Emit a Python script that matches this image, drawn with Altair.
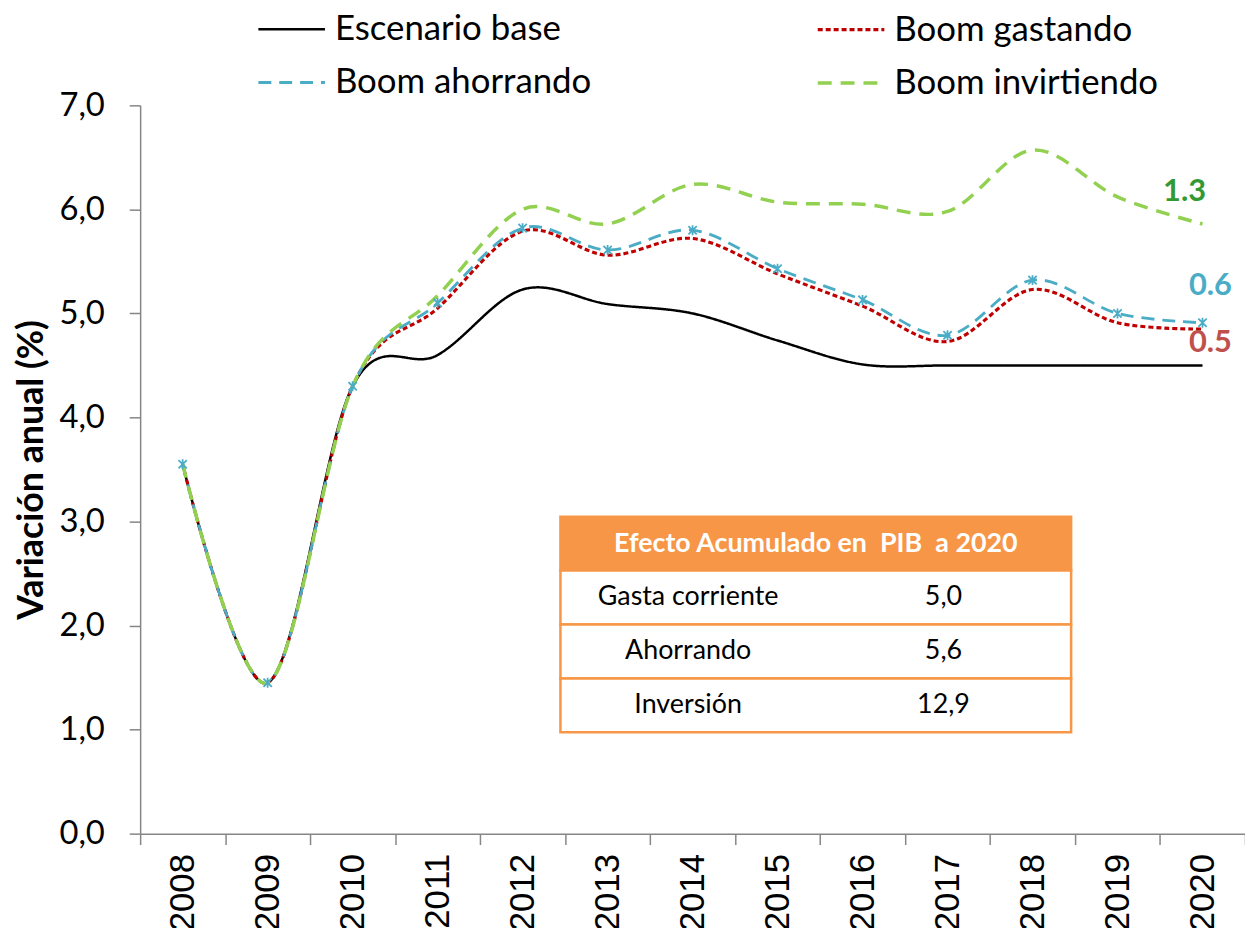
import altair as alt
import pandas as pd

years = ["2008", "2009", "2010", "2011", "2012", "2013", "2014",
         "2015", "2016", "2017", "2018", "2019", "2020"]

series_names = ["Escenario base", "Boom ahorrando", "Boom gastando", "Boom invirtiendo"]

base = [3.55, 1.45, 4.30, 4.60, 5.23, 5.09, 5.00, 4.74, 4.51, 4.50, 4.50, 4.50, 4.50]
gastando = [3.55, 1.45, 4.30, 5.05, 5.79, 5.56, 5.72, 5.38, 5.07, 4.73, 5.23, 4.91, 4.85]
ahorrando = [3.55, 1.45, 4.30, 5.10, 5.82, 5.61, 5.80, 5.43, 5.13, 4.79, 5.32, 5.00, 4.91]
invirtiendo = [3.55, 1.45, 4.30, 5.17, 6.00, 5.86, 6.24, 6.07, 6.05, 5.98, 6.57, 6.12, 5.86]

end_labels = ["0.5", "0.6", "1.3"]  # for gastando, ahorrando, invirtiendo

table_title = "Efecto Acumulado en \u00a0PIB \u00a0a 2020"
table_labels = ["Gasta corriente", "Ahorrando", "Inversión"]
table_values = [5.0, 5.6, 12.9]

# ---------------- data frames ----------------
all_series = {"Escenario base": base, "Boom gastando": gastando,
              "Boom ahorrando": ahorrando, "Boom invirtiendo": invirtiendo}
draw_order = ["Escenario base", "Boom gastando", "Boom ahorrando", "Boom invirtiendo"]
rows = []
for name in draw_order:
    for y, v in zip(years, all_series[name]):
        rows.append({"year": y, "series": name, "value": v})
df = pd.DataFrame(rows)

# styles, in series_names order
colors = ["#000000", "#4BACC6", "#C00000", "#92D050"]
dashes = [[1, 0], [13, 8], [5, 3], [14, 9]]
widths = [2.5, 3.5, 3, 3.5]

axis_gray = "#868686"

x_enc = alt.X(
    "year:O",
    scale=alt.Scale(type="band", domain=years, paddingInner=0, paddingOuter=0),
    bandPosition=0.5,
    axis=alt.Axis(title=None, tickBand="extent", labelAngle=270,
                  labelFont="Liberation Sans", labelFontSize=35,
                  labelColor="black", labelPadding=9, tickSize=11,
                  tickColor=axis_gray, tickWidth=1.5, domainColor=axis_gray,
                  domainWidth=1.5, grid=False),
)

y_enc = alt.Y(
    "value:Q",
    scale=alt.Scale(domain=[0, 7], nice=False, zero=True),
    axis=alt.Axis(title="Variación anual (%)", values=list(range(0, 8)),
                  labelExpr="replace(format(datum.value, '.1f'), '.', ',')",
                  labelFont="Lato", labelFontSize=33, labelColor="black",
                  labelPadding=25, tickSize=11, tickColor=axis_gray,
                  tickWidth=1.5, domainColor=axis_gray, domainWidth=1.5,
                  titleFont="Lato", titleFontSize=36, titleFontWeight="bold",
                  titleColor="black", titlePadding=9, grid=False),
)

legend = alt.Legend(
    title=None, orient="none", legendX=117, legendY=-112, columns=2,
    columnPadding=220, rowPadding=-2, symbolType="stroke",
    symbolSize=4489, symbolStrokeWidth=3, labelFont="Lato",
    labelFontSize=35, labelColor="black", labelOffset=8, labelLimit=600,
)

color_enc = alt.Color("series:N", scale=alt.Scale(domain=series_names, range=colors),
                      legend=legend)
dash_enc = alt.StrokeDash("series:N", scale=alt.Scale(domain=series_names, range=dashes),
                          legend=legend)
width_enc = alt.StrokeWidth("series:N", scale=alt.Scale(domain=series_names, range=widths),
                            legend=None)

line_layers = []
for s in draw_order:
    line_layers.append(
        alt.Chart(df).transform_filter(alt.datum.series == s)
        .mark_line(interpolate="cardinal")
        .encode(x=x_enc, y=y_enc, color=color_enc, strokeDash=dash_enc,
                strokeWidth=width_enc)
    )

star = "M-1,-1L1,1M1,-1L-1,1M0,-1.2L0,1.2"
markers = (
    alt.Chart(df).transform_filter(alt.datum.series == "Boom ahorrando")
    .mark_point(shape=star, filled=False, size=70, strokeWidth=1.8,
                color="#4BACC6", opacity=1)
    .encode(x=x_enc, y=y_enc)
)

label_styles = [
    ("Boom gastando", gastando, "#C0504D", 8, 14),
    ("Boom ahorrando", ahorrando, "#4BACC6", 8, -37),
    ("Boom invirtiendo", invirtiendo, "#339933", -18, -32),
]
text_layers = []
for (s, vals, col, dx, dy), lab in zip(label_styles, end_labels):
    d = pd.DataFrame({"year": [years[-1]], "value": [vals[-1]], "label": [lab]})
    text_layers.append(
        alt.Chart(d).mark_text(font="Lato", fontWeight="bold", fontSize=31,
                               color=col, dx=dx, dy=dy)
        .encode(x=x_enc, y=y_enc, text="label:N")
    )

main = alt.layer(*line_layers, markers, *text_layers)

# ---------------- table ----------------
orange = "#F79646"
tbl_rows = ["header"] + table_labels
tdf = pd.DataFrame({
    "row": table_labels,
    "c0": [0] * len(table_labels),
    "c1": [2] * len(table_labels),
    "val": table_values,
})
hdf = pd.DataFrame({"row": ["header"], "c0": [0], "c1": [2], "label": [table_title]})

ty = alt.Y("row:N", scale=alt.Scale(type="band", domain=tbl_rows, range=[414, 631],
                                    paddingInner=0, paddingOuter=0), axis=None)
tx_scale = alt.Scale(domain=[0, 2], range=[423, 937], nice=False, zero=False)

header_rect = alt.Chart(hdf).mark_rect(fill=orange, stroke=orange, strokeWidth=2.5).encode(
    x=alt.X("c0:Q", scale=tx_scale, axis=None), x2="c1:Q", y=ty)
row_rects = alt.Chart(tdf).mark_rect(fill="white", stroke=orange, strokeWidth=2.5).encode(
    x=alt.X("c0:Q", scale=tx_scale, axis=None), x2="c1:Q", y=ty)
header_text = alt.Chart(hdf).mark_text(font="Lato", fontWeight="bold", fontSize=27,
                                       color="white").encode(
    x=alt.X(datum=1, scale=tx_scale, axis=None), y=ty, text="label:N")
label_text = alt.Chart(tdf).mark_text(font="Lato", fontSize=27, color="black").encode(
    x=alt.X(datum=0.5, scale=tx_scale, axis=None), y=ty, text="row:N")
value_text = alt.Chart(tdf).transform_calculate(
    vt="replace(format(datum.val, '.1f'), '.', ',')"
).mark_text(font="Lato", fontSize=27, color="black").encode(
    x=alt.X(datum=1.5, scale=tx_scale, axis=None), y=ty, text="vt:N")

table = alt.layer(header_rect, row_rects, header_text, label_text, value_text)

chart = (
    alt.layer(main, table)
    .resolve_scale(x="independent", y="independent")
    .properties(width=1112, height=733,
                padding={"left": 133, "top": 95, "right": 0, "bottom": 92},
                autosize=alt.AutoSizeParams(type="none"),
                background="white")
    .configure_view(stroke=None)
)

chart.save("out.html", embed_options={"renderer": "svg", "actions": False})
